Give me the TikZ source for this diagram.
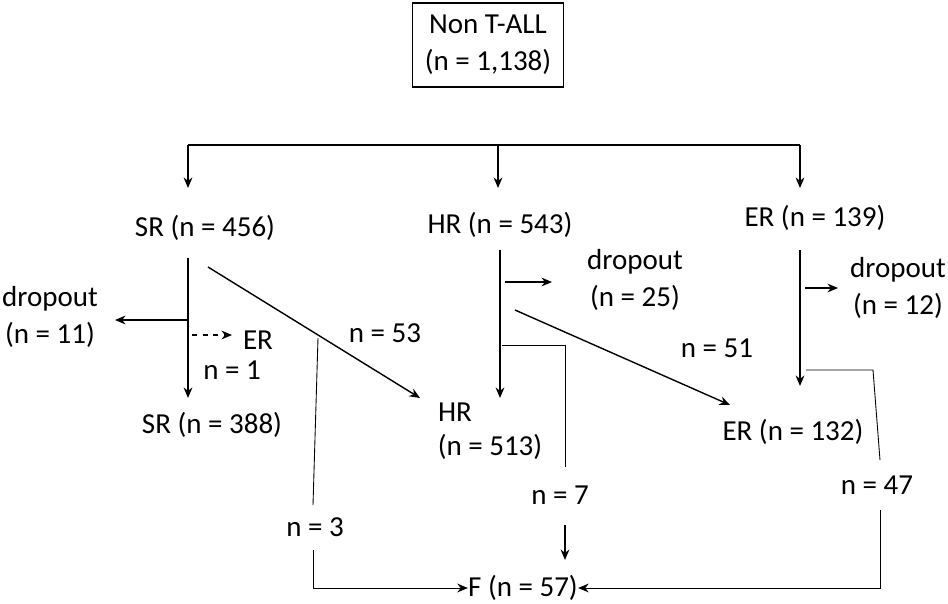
\documentclass[tikz,border=0pt]{standalone}
\usepackage{fontspec}
\setmainfont{Carlito}
\usetikzlibrary{arrows.meta}
\begin{document}
\begin{tikzpicture}[x=0.02cm,y=-0.02cm,
  txt/.style={font=\fontsize{16.5}{21}\selectfont,inner sep=0pt,align=center},
  arr/.style={thick,-{Stealth[length=6pt,width=5pt]}},
  thin/.style={line width=0.5pt},
  tarr/.style={line width=0.5pt,-{Stealth[length=6pt,width=5pt]}}]
\useasboundingbox (0,0) rectangle (948,603);
\node[txt,draw,thick,inner sep=7pt,minimum width=150*0.02cm] (top) at (488,45) {Non T-ALL\\(n = 1,138)};
\coordinate (hl) at (188,145); \coordinate (hm) at (498,145); \coordinate (hr) at (800,145);
\draw[thick] (hl) -- (hr);
\coordinate (al) at (188,188); \coordinate (am) at (498,188); \coordinate (ar) at (800,188);
\draw[arr] (hl) -- (al); \draw[arr] (hm) -- (am); \draw[arr] (hr) -- (ar);
\node[txt] (sr) at (205,228) {SR (n = 456)};
\node[txt] (hr1) at (500,225) {HR (n = 543)};
\node[txt] (er) at (815,218) {ER (n = 139)};
% SR branch
\coordinate (s1) at (188,258); \coordinate (s2) at (188,398);
\draw[arr] (s1) -- (s2);
\coordinate (s3) at (188,320); \coordinate (s4) at (115,320);
\draw[arr] (s3) -- (s4);
\node[txt] (d11) at (50,317) {dropout\\(n = 11)};
\coordinate (s5) at (192,335); \coordinate (s6) at (232,335);
\draw[arr,dashed,semithick] (s5) -- (s6);
\node[txt] (er1) at (258,340) {ER};
\node[txt] (n1) at (232,370) {n = 1};
\node[txt] (sr2) at (212,425) {SR (n = 388)};
\coordinate (d1) at (208,267); \coordinate (d2) at (420,398);
\draw[arr] (d1) -- (d2);
\node[txt] (n53) at (385,333) {n = 53};
\node[txt] (hr2) at (455,412) {HR};
\node[txt] (hr2b) at (490,447) {(n = 513)};
% HR branch
\coordinate (h1) at (500,250); \coordinate (h2) at (500,398);
\draw[arr] (h1) -- (h2);
\coordinate (h3) at (505,282); \coordinate (h4) at (552,282);
\draw[arr] (h3) -- (h4);
\node[txt] (d25) at (635,280) {dropout\\(n = 25)};
\coordinate (h5) at (515,310); \coordinate (h6) at (730,405);
\draw[arr] (h5) -- (h6);
\node[txt] (n51) at (717,348) {n = 51};
\node[txt] (er2) at (793,432) {ER (n = 132)};
\coordinate (t1) at (502,345); \coordinate (t2) at (565,345); \coordinate (t3) at (565,467);
\draw[thin] (t1) -- (t2) -- (t3);
\node[txt] (n7) at (560,495) {n = 7};
\coordinate (t4) at (565,525); \coordinate (t5) at (565,560);
\draw[arr] (t4) -- (t5);
% ER branch
\coordinate (e1) at (800,250); \coordinate (e2) at (800,386);
\draw[arr] (e1) -- (e2);
\coordinate (e3) at (805,288); \coordinate (e4) at (838,288);
\draw[arr] (e3) -- (e4);
\node[txt] (d12) at (898,288) {dropout\\(n = 12)};
\coordinate (u1) at (806,370); \coordinate (u2) at (873,370); \coordinate (u3) at (880,460);
\draw[thin] (u1) -- (u2) -- (u3);
\node[txt] (n47) at (877,485) {n = 47};
\coordinate (u4) at (880,510); \coordinate (u5) at (880,588);
% SR thin
\coordinate (v1) at (318,338); \coordinate (v2) at (313,505);
\draw[thin] (v1) -- (v2);
\node[txt] (n3) at (315,527) {n = 3};
\coordinate (v3) at (313,550); \coordinate (v4) at (313,588);
\node[txt] (f) at (523,588) {F (n = 57)};
\draw[tarr] (v3) -- (v4) -- (f.west);
\draw[tarr] (u4) -- (u5) -- (f.east);
\end{tikzpicture}
\end{document}
